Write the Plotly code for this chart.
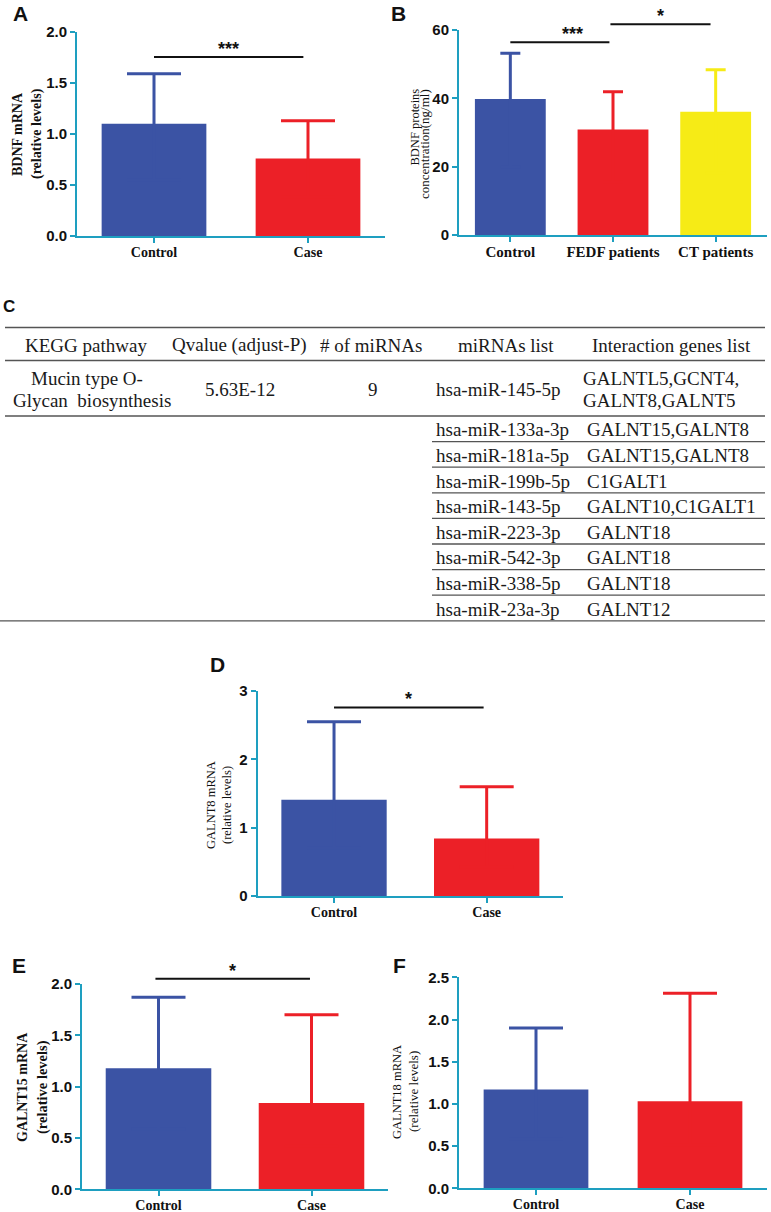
import plotly.graph_objects as go

W, H = 771, 1212


def px(x):
    return x / W


def py(y):
    return 1 - y / H


# ---------------- data ----------------
cats_two = ["Control", "Case"]
cats_b = ["Control", "FEDF patients", "CT patients"]

a_means = [1.10, 0.76]
a_sd = [0.49, 0.37]

b_means = [39.8, 30.9, 36.1]
b_sd = [13.4, 11.0, 12.3]

d_means = [1.41, 0.84]
d_sd = [1.14, 0.76]

e_means = [1.18, 0.84]
e_sd = [0.69, 0.86]

f_means = [1.17, 1.03]
f_sd = [0.73, 1.28]

# significance bars: (x_start, x_end, y, label) in data units
a_sig = [(0.0, 0.97, 1.755, "***")]
b_sig = [(0.0, 0.965, 56.4, "***"), (0.975, 1.95, 61.7, "*")]
d_sig = [(0.0, 0.98, 2.76, "*")]
e_sig = [(-0.02, 0.99, 2.05, "*")]
f_sig = []

# table
tbl_header = ["KEGG pathway", "Qvalue (adjust-P)", "# of miRNAs", "miRNAs list", "Interaction genes list"]
tbl_pathway = ["Mucin type O-", "Glycan  biosynthesis"]
tbl_qvalue = "5.63E-12"
tbl_n_mirna = "9"
tbl_mirnas = ["hsa-miR-145-5p", "hsa-miR-133a-3p", "hsa-miR-181a-5p", "hsa-miR-199b-5p",
              "hsa-miR-143-5p", "hsa-miR-223-3p", "hsa-miR-542-3p", "hsa-miR-338-5p",
              "hsa-miR-23a-3p"]
tbl_genes = [["GALNTL5,GCNT4,", "GALNT8,GALNT5"], ["GALNT15,GALNT8"], ["GALNT15,GALNT8"],
             ["C1GALT1"], ["GALNT10,C1GALT1"], ["GALNT18"], ["GALNT18"], ["GALNT18"],
             ["GALNT12"]]

# ---------------- style ----------------
BLUE = "#3B53A4"
RED = "#EC2027"
YELLOW = "#F6EB16"
TEAL = "#1E9FC0"
SANS = "Liberation Sans"
SERIF = "Liberation Serif"

panels = [
    dict(key="A", cats=cats_two, means=a_means, sds=a_sd, colors=[BLUE, RED], sig=a_sig,
         x0=77, x1=385, ytop=32, ybot=236, yr=[0, 2], dtick=0.5, fmt=".1f", cap=27, bw=0.68,
         xfs=14, label=(20, 14),
         titles=[("BDNF mRNA", 18, 134, "middle", True, 14), ("(relative levels)", 37, 134, "middle", True, 14)]),
    dict(key="B", cats=cats_b, means=b_means, sds=b_sd, colors=[BLUE, RED, YELLOW], sig=b_sig,
         x0=459, x1=767, ytop=30, ybot=235, yr=[0, 60], dtick=20, fmt="d", cap=10, bw=0.69,
         xfs=15, label=(398, 13),
         titles=[("BDNF proteins", 415, 87, "top", False, 12.5), ("concentration(ng/ml)", 425, 87, "top", False, 13)]),
    dict(key="D", cats=cats_two, means=d_means, sds=d_sd, colors=[BLUE, RED], sig=d_sig,
         x0=257.7, x1=563, ytop=691, ybot=896, yr=[0, 3], dtick=1, fmt="d", cap=27, bw=0.69,
         xfs=14, label=(217, 664),
         titles=[("GALNT8 mRNA", 211, 805, "middle", False, 12.5), ("(relative levels)", 227, 805, "middle", False, 12.5)]),
    dict(key="E", cats=cats_two, means=e_means, sds=e_sd, colors=[BLUE, RED], sig=e_sig,
         x0=82, x1=388, ytop=984, ybot=1189.3, yr=[0, 2], dtick=0.5, fmt=".1f", cap=27, bw=0.69,
         xfs=14, label=(19, 965),
         titles=[("GALNT15 mRNA", 22, 1087, "middle", True, 14), ("(relative levels)", 42, 1087, "middle", True, 14.5)]),
    dict(key="F", cats=cats_two, means=f_means, sds=f_sd, colors=[BLUE, RED], sig=f_sig,
         x0=459, x1=767, ytop=977.3, ybot=1188.3, yr=[0, 2.5], dtick=0.5, fmt=".1f", cap=27, bw=0.68,
         xfs=14, label=(399, 965),
         titles=[("GALNT18 mRNA", 397, 1092, "middle", False, 12.5), ("(relative levels)", 413, 1092, "middle", False, 13)]),
]

fig = go.Figure()
shapes = []
annotations = []
layout = {}

for i, p in enumerate(panels):
    idx = "" if i == 0 else str(i + 1)
    xa, ya = "x" + idx, "y" + idx
    n = len(p["cats"])
    for c, m, s, col in zip(p["cats"], p["means"], p["sds"], p["colors"]):
        # lower whisker is hidden inside the bar (only the upper SD is visible)
        fig.add_trace(go.Bar(
            x=[c], y=[m], width=p["bw"], marker=dict(color=col, line=dict(width=0)),
            error_y=dict(type="data", array=[s], arrayminus=[m / 2], symmetric=False,
                         color=col, thickness=3, width=p["cap"]),
            xaxis=xa, yaxis=ya, showlegend=False, hoverinfo="skip"))
    layout["xaxis" + idx] = dict(
        domain=[px(p["x0"]), px(p["x1"])], anchor=ya, type="category",
        categoryorder="array", categoryarray=p["cats"], range=[-0.5, n - 0.5],
        showline=True, linecolor=TEAL, linewidth=2, ticks="outside", ticklen=5,
        tickwidth=2, tickcolor=TEAL, showgrid=False, zeroline=False,
        ticklabelstandoff=-3, automargin=False,
        tickfont=dict(family=SERIF, size=p["xfs"], color="#111", weight="bold"))
    layout["yaxis" + idx] = dict(
        domain=[py(p["ybot"]), py(p["ytop"])], anchor=xa, range=p["yr"],
        tick0=0, dtick=p["dtick"], tickformat=p["fmt"],
        showline=True, linecolor=TEAL, linewidth=2, ticks="outside", ticklen=5,
        tickwidth=2, tickcolor=TEAL, showgrid=False, zeroline=False, automargin=False,
        tickfont=dict(family=SANS, size=15, color="#111", weight="bold"))

    y0, y1 = p["yr"]

    def fx(v, n=n):
        return (v + 0.5) / n

    def fy(v, y0=y0, y1=y1):
        return (v - y0) / (y1 - y0)

    for xs, xe, yv, lab in p["sig"]:
        shapes.append(dict(type="line", xref=xa + " domain", yref=ya + " domain",
                           x0=fx(xs), x1=fx(xe), y0=fy(yv), y1=fy(yv),
                           line=dict(color="#111", width=2)))
        annotations.append(dict(xref=xa + " domain", yref=ya + " domain",
                                x=fx((xs + xe) / 2), y=fy(yv), yanchor="bottom", yshift=-4,
                                text=lab, showarrow=False,
                                font=dict(family=SANS, size=18, color="#111", weight="bold")))
    # panel letter
    annotations.append(dict(xref="paper", yref="paper", x=px(p["label"][0]), y=py(p["label"][1]),
                            text=p["key"], showarrow=False, xanchor="center", yanchor="middle",
                            font=dict(family=SANS, size=21, color="#111", weight="bold")))
    # y titles
    for txt, cx, cy, yanc, bold, fs in p["titles"]:
        annotations.append(dict(xref="paper", yref="paper", x=px(cx), y=py(cy), text=txt,
                                textangle=-90, showarrow=False, xanchor="center", yanchor=yanc,
                                font=dict(family=SERIF, size=fs, color="#111",
                                          weight="bold" if bold else "normal")))

# ---------------- table C ----------------
TF = dict(family=SERIF, size=19, color="#1a1a1a")
LINEC = dict(color="#555", width=1.3)
annotations.append(dict(xref="paper", yref="paper", x=px(9), y=py(306), text="C", showarrow=False,
                        xanchor="center", yanchor="middle",
                        font=dict(family=SANS, size=17, color="#111", weight="bold")))


def hline(y, xa_, xb_):
    shapes.append(dict(type="line", xref="paper", yref="paper", x0=px(xa_), x1=px(xb_),
                       y0=py(y), y1=py(y), line=LINEC))


def txt(t, x, y, anchor="center"):
    annotations.append(dict(xref="paper", yref="paper", x=px(x), y=py(y), text=t, showarrow=False,
                            xanchor=anchor, yanchor="middle", font=TF))


hline(327.5, 5, 765)
hline(360.5, 5, 765)
hline(416, 5, 765)

header_x = [86, 239, 371, 506, 671]
for h, hx in zip(tbl_header, header_x):
    txt(h, hx, 345)

txt(tbl_pathway[0], 87, 378)
txt(tbl_pathway[1], 92, 400)
txt(tbl_qvalue, 240, 389)
txt(tbl_n_mirna, 373, 389)
txt(tbl_mirnas[0], 434, 389, "left")
txt(tbl_genes[0][0], 581, 378, "left")
txt(tbl_genes[0][1], 581, 400, "left")

ROW_H = 25.6
for k, (mir, gen) in enumerate(zip(tbl_mirnas[1:], tbl_genes[1:])):
    yc = 416 + ROW_H * (k + 0.5) + 1
    txt(mir, 434, yc, "left")
    txt(gen[0], 585, yc, "left")
    yl = 416 + ROW_H * (k + 1)
    if k < len(tbl_mirnas) - 2:
        hline(yl, 432, 765)
    else:
        hline(yl, 0, 765)

fig.update_layout(
    width=W, height=H, autosize=False,
    margin=dict(l=0, r=0, t=0, b=0, pad=0, autoexpand=False),
    paper_bgcolor="white", plot_bgcolor="white",
    barmode="overlay", showlegend=False, hovermode=False,
    shapes=shapes, annotations=annotations,
    **layout)

fig.write_html("out.html",
               config={"displayModeBar": False, "staticPlot": True},
               post_script="document.body.style.margin='0';document.body.style.overflow='hidden';")
